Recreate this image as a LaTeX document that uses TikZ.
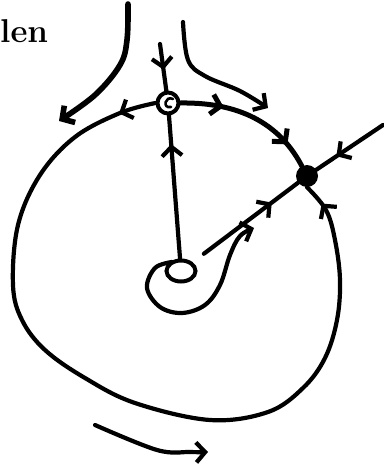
\documentclass[tikz,border=0pt]{standalone}
\usepackage{tikz}
\usetikzlibrary{arrows.meta, shapes.geometric, decorations.markings}

\tikzset{
  flow/.style={line width=4.2pt, line cap=round, line join=round},
  barb/.tip={Straight Barb[length=9pt, width=20pt]},
  midarrow/.style={postaction={decorate, decoration={markings, mark=at position #1 with {\arrow{barb}}}}},
  saddlept/.style={circle, draw, line width=4pt, minimum size=21pt, inner sep=0pt},
  sinkpt/.style={circle, fill, minimum size=22pt, inner sep=0pt},
  sourcept/.style={ellipse, draw, line width=4pt, minimum width=29pt, minimum height=21pt, inner sep=0pt},
}

\begin{document}
\begin{tikzpicture}[x=1pt, y=-1pt]
\useasboundingbox (0,0) rectangle (383,466);

% fixed points
\node[saddlept] (saddle) at (168,103) {};
\node[sinkpt] (sink) at (307,176) {};
\node[sourcept] (source) at (181,271) {};
\draw[line width=2.6pt, line cap=round] (173,99) .. controls (165,95) and (162,109) .. (171,107);

% label at the edge
\node[font=\fontsize{33}{33}\selectfont\bfseries, anchor=base west, inner sep=0pt] (lbl) at (0,42) {len};

% free ends
\coordinate (tin) at (160,44);
\coordinate (rin) at (383,125);

% separatrices into the saddle
\draw[flow, midarrow=0.55] (tin) -- (saddle);
\draw[flow, midarrow=0.8] (source) -- (saddle);

% saddle to sink, upper branch
\draw[flow, line width=5pt, midarrow=0.3, midarrow=0.82] (saddle.east) .. controls (245,102) and (282,128) .. (sink);

% saddle to sink, long way round
\draw[flow, midarrow=38pt, midarrow=-22pt] plot[smooth, tension=0.6] coordinates {
  (saddle.west) (120,113) (75,137) (40,175) (18,225) (13,285) (22,320) (45,350)
  (85,378) (135,403) (210,420) (268,412) (303,388) (325,358) (337,320) (340,280)
  (335,240) (326,210) (sink.south)};

% other orbits into the sink
\draw[flow, midarrow=0.75, shorten <=14pt] (source) -- (sink);
\draw[flow, midarrow=0.7] (rin) -- (sink);

% spiral out of the source
\draw[flow, -{barb}] plot[smooth, tension=0.6] coordinates {
  (172,262) (155,268) (147,288) (160,307) (182,313) (205,305) (220,285) (230,255) (240,236) (254,228)};

% outer separatrices
\draw[flow, line width=5.6pt, -{barb}] plot[smooth, tension=0.6] coordinates {
  (128,4) (127,40) (120,65) (95,95) (59,121)};
\draw[flow, -{barb}] plot[smooth, tension=0.6] coordinates {
  (183,22) (188,60) (205,76) (240,91) (268,108)};

% sense of rotation
\draw[flow, -{barb}] plot[smooth, tension=0.6] coordinates {
  (95,425) (157,450) (190,452) (208,452)};
\end{tikzpicture}
\end{document}
